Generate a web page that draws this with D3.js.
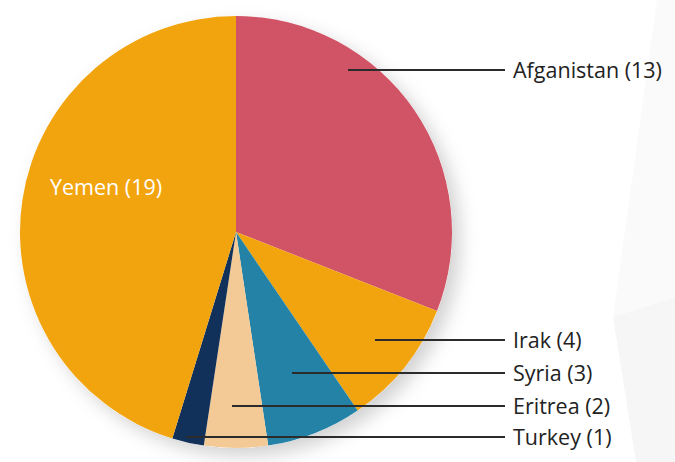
<!DOCTYPE html>
<html>
<head>
<meta charset="utf-8">
<script src="https://cdn.jsdelivr.net/npm/d3@7"></script>
<style>
  html, body { margin: 0; padding: 0; background: #fff; }
  svg { display: block; }
</style>
</head>
<body>
<div id="chart"></div>
<script>
// Chart data
const countries = ["Afganistan", "Irak", "Syria", "Eritrea", "Turkey", "Yemen"];
const counts = [13, 4, 3, 2, 1, 19];
const colors = ["#d05466", "#f2a40f", "#2482a6", "#f3c995", "#12315a", "#f2a40f"];

// Leader line layout (start x, label row y); Yemen is labelled inside
const leaderStartX = { Afganistan: 348, Irak: 375, Syria: 292, Eritrea: 232, Turkey: 186 };
const labelRowY = { Afganistan: 70, Irak: 340, Syria: 373, Eritrea: 406, Turkey: 437 };

const width = 675;
const height = 462;
const cx = 236;
const cy = 232;
const radius = 216;
const fontSize = 21.5;

const svg = d3
  .select("#chart")
  .append("svg")
  .attr("width", width)
  .attr("height", height);

// Faint background shapes on the right
svg.append("polygon")
  .attr("points", "657,0 675,0 675,297 613,317")
  .attr("fill", "#fafafa");
svg.append("polygon")
  .attr("points", "613,317 675,297 675,462 636,462")
  .attr("fill", "#f6f6f6");

// Drop shadow filter
const defs = svg.append("defs");
const filter = defs.append("filter")
  .attr("id", "shadow")
  .attr("x", "-20%").attr("y", "-20%")
  .attr("width", "140%").attr("height", "140%");
filter.append("feDropShadow")
  .attr("dx", 8).attr("dy", 8)
  .attr("stdDeviation", 9)
  .attr("flood-color", "#000")
  .attr("flood-opacity", 0.18);

const data = countries.map((c, i) => ({ name: c, value: counts[i], color: colors[i] }));

const pie = d3.pie().sort(null).value((d) => d.value);
const arc = d3.arc().innerRadius(0).outerRadius(radius);

const g = svg.append("g").attr("transform", `translate(${cx},${cy})`);

g.append("circle")
  .attr("r", radius)
  .attr("fill", "#fff")
  .attr("filter", "url(#shadow)");

g.selectAll("path.slice")
  .data(pie(data))
  .enter()
  .append("path")
  .attr("class", "slice")
  .attr("d", arc)
  .attr("fill", (d) => d.data.color);

// Leader lines and outside labels
const outside = data.filter((d) => leaderStartX[d.name] !== undefined);

svg.selectAll("line.leader")
  .data(outside)
  .enter()
  .append("line")
  .attr("class", "leader")
  .attr("x1", (d) => leaderStartX[d.name])
  .attr("x2", 505)
  .attr("y1", (d) => labelRowY[d.name])
  .attr("y2", (d) => labelRowY[d.name])
  .attr("stroke", "#2b2b2b")
  .attr("stroke-width", 1.8);

svg.selectAll("text.label")
  .data(outside)
  .enter()
  .append("text")
  .attr("class", "label")
  .attr("x", 513)
  .attr("y", (d) => labelRowY[d.name] + 7.5)
  .attr("font-family", "'Open Sans', sans-serif")
  .attr("font-size", fontSize)
  .attr("fill", "#222")
  .text((d) => `${d.name} (${d.value})`);

// Yemen label inside the slice
const yemen = data.find((d) => d.name === "Yemen");
svg.append("text")
  .attr("x", 50)
  .attr("y", 195)
  .attr("font-family", "'Open Sans', sans-serif")
  .attr("font-size", fontSize)
  .attr("fill", "#fff")
  .text(`${yemen.name} (${yemen.value})`);
</script>
</body>
</html>
